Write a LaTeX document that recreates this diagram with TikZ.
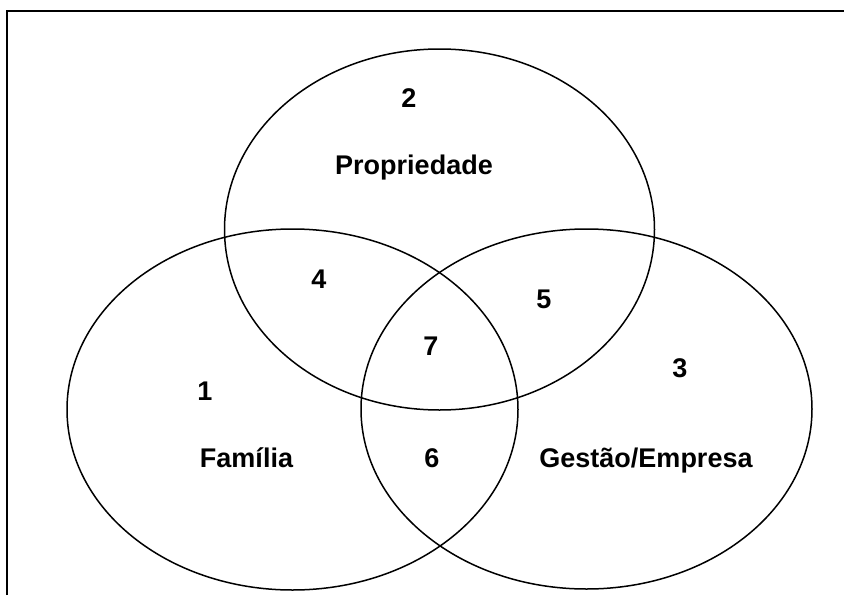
\documentclass[tikz,border=0pt]{standalone}
\usepackage{fontspec}
\setmainfont{Liberation Sans}
\usepackage{tikz}
\usetikzlibrary{shapes.geometric, positioning}
\tikzstyle{myset} = [draw, ellipse, line width=1.5pt, inner sep=0pt]
\tikzstyle{setlabel} = [anchor=base, inner sep=0pt,
    font=\fontsize{27}{32}\selectfont\bfseries]

\begin{document}
\begin{tikzpicture}[x=1pt, y=-1pt]
    \useasboundingbox (0,0) rectangle (844,595);
    \draw[line width=1.3pt] (7,595) -- (7,11) -- (844,11);
    % the three sets
    \node[myset, minimum width=430pt, minimum height=361pt] (prop) at (439.5,229.5) {};
    \node[myset, minimum width=451pt, minimum height=361pt] (fam) at (292.5,409.5) {};
    \node[myset, minimum width=451pt, minimum height=360pt] (gest) at (586.5,409) {};
    % names of the sets
    \node[setlabel] (tprop) at (414,174) {Propriedade};
    \node[setlabel] (tfam) at (246.5,467) {Família};
    \node[setlabel] (tgest) at (646,467) {Gestão/Empresa};
    % the regions
    \node[setlabel] (n1) at (205,400) {1};
    \node[setlabel] (n2) at (409,107) {2};
    \node[setlabel] (n3) at (680,377) {3};
    \node[setlabel] (n4) at (319,288) {4};
    \node[setlabel] (n5) at (544,308) {5};
    \node[setlabel] (n6) at (432,467) {6};
    \node[setlabel] (n7) at (431,355) {7};
\end{tikzpicture}
\end{document}
